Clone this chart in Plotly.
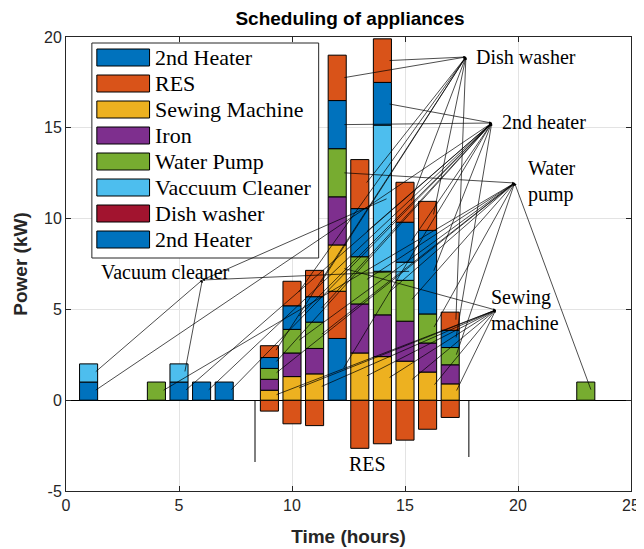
import plotly.graph_objects as go

# ---------------- data ----------------
hours = [1, 4, 5, 6, 7, 9, 10, 11, 12, 13, 14, 15, 16, 17, 23]
heater1 = [1, 0, 1, 1, 1, 0, 0, 0, 3.4, 0, 0, 0, 0, 0, 0]
res = [0, 0, 0, 0, 0, -0.6, -1.3, -1.4, 2.6, -2.65, -2.4, -2.2, -1.6, -0.95, 0]
sewing = [0, 0, 0, 0, 0, 0.55, 1.3, 1.45, 2.55, 2.6, 2.4, 2.15, 1.55, 0.9, 0]
iron = [0, 0, 0, 0, 0, 0.6, 1.3, 1.4, 2.65, 2.7, 2.3, 2.2, 1.6, 1.05, 0]
pump = [0, 1, 0, 0, 0, 0.6, 1.3, 1.45, 2.65, 2.6, 2.4, 2.25, 1.6, 0.95, 1]
vacuum = [1, 0, 1, 0, 0, 0, 0, 0, 0, 0, 8.05, 1.0, 0, 0, 0]
dish = [0] * 15
heater2 = [0, 0, 0, 0, 0, 0.6, 1.3, 1.4, 2.65, 2.65, 2.35, 2.2, 4.6, 0.95, 0]
extra = [0, 0, 0, 0, 0, 0.65, 1.35, 1.45, 2.5, 2.7, 2.4, 2.2, 1.6, 1.0, 0]

series = [heater1, res, sewing, iron, pump, vacuum, dish, heater2, extra]
legend_names = ["2nd Heater", "RES", "Sewing Machine", "Iron", "Water Pump",
                "Vaccuum Cleaner", "Dish washer", "2nd Heater"]
colors = ["#0072BD", "#D95319", "#EDB120", "#7E2F8E", "#77AC30",
          "#4DBEEE", "#A2142F", "#0072BD", "#D95319"]

x_ticks = [0, 5, 10, 15, 20, 25]
x_ticklabels = ["0", "5", "10", "15", "20", "25"]
y_ticks = [-5, 0, 5, 10, 15, 20]
y_ticklabels = ["-5", "0", "5", "10", "15", "20"]

# ---------------- layout geometry (page pixels) ----------------
W, H = 644, 549
OFF = 8  # default body margin of the html page
PL, PR, PT, PB = 66, 634, 37, 491  # plot area in page pixels
XR = (0, 25)
YR = (-5, 20)
ML, MT = PL - OFF, PT - OFF
MR = W - (PR - OFF)
MB = H - (PB - OFF)


def px2x(px):
    return XR[0] + (px - PL) / (PR - PL) * (XR[1] - XR[0])


def px2y(py):
    return YR[1] - (py - PT) / (PB - PT) * (YR[1] - YR[0])


fig = go.Figure()
for i, s in enumerate(series):
    fig.add_trace(go.Bar(
        x=hours, y=[v if v != 0 else None for v in s],
        width=0.8, marker=dict(color=colors[i], line=dict(color="black", width=1)),
        showlegend=False, hoverinfo="skip"))

# segment centers for annotation targets
pos_base = [0.0] * len(hours)
neg_base = [0.0] * len(hours)
centers = []
for s in series:
    c = []
    for j, v in enumerate(s):
        if v >= 0:
            c.append(pos_base[j] + v / 2)
            pos_base[j] += v
        else:
            c.append(neg_base[j] + v / 2)
            neg_base[j] += v
    centers.append(c)

serif = "Liberation Serif, Times New Roman, serif"
sans = "Liberation Sans, Arial, sans-serif"
annotations = []


def arrows(anchor, targets):
    for (h, si) in targets:
        j = hours.index(h)
        annotations.append(dict(
            x=anchor[0], y=anchor[1], ax=h + 0.25, ay=centers[si][j],
            xref="x", yref="y", axref="x", ayref="y", text="",
            showarrow=True, arrowhead=2, arrowsize=0.7, arrowwidth=0.7,
            arrowcolor="black", standoff=0, startstandoff=0))


mid = [9, 10, 11, 12, 13, 14, 15, 16, 17]
arrows((px2x(468), px2y(57)), [(h, 8) for h in mid])
arrows((px2x(494), px2y(123)), [(h, 7) for h in mid] + [(h, 0) for h in [1, 5, 6, 7, 12]])
arrows((px2x(517), px2y(183)), [(h, 4) for h in [4] + mid + [23]])
arrows((px2x(498), px2y(310)), [(h, 2) for h in mid])
arrows((px2x(203), px2y(280)), [(h, 5) for h in [1, 5, 14, 15]])

labels = [
    ("Dish washer", 476, 57, "left"),
    ("2nd heater", 502, 122, "left"),
    ("Water<br>pump", 528, 181, "left"),
    ("Sewing<br>machine", 491, 310, "left"),
    ("Vacuum cleaner", 233, 272, "right"),
    ("RES", 369, 464, "center"),
]
for t, px, py, anc in labels:
    annotations.append(dict(
        x=px2x(px), y=px2y(py), xref="x", yref="y", text=t, showarrow=False,
        xanchor=anc, yanchor="middle", align="left",
        font=dict(family=serif, size=20, color="black")))

shapes = []
# RES pointer lines
for px, py_end in [(256, 462), (471, 457)]:
    shapes.append(dict(type="line", xref="x", yref="y",
                       x0=px2x(px), x1=px2x(px), y0=0, y1=px2y(py_end),
                       line=dict(color="black", width=1)))

# custom legend
shapes.append(dict(type="rect", xref="x", yref="y",
                   x0=px2x(92), x1=px2x(320), y0=px2y(43), y1=px2y(258),
                   fillcolor="white", line=dict(color="#262626", width=1), layer="above"))
for k, name in enumerate(legend_names):
    cy = 57.5 + 26 * k
    shapes.append(dict(type="rect", xref="x", yref="y",
                       x0=px2x(97), x1=px2x(150), y0=px2y(cy - 8.5), y1=px2y(cy + 8.5),
                       fillcolor=colors[k], line=dict(color="black", width=1), layer="above"))
    annotations.append(dict(
        x=px2x(153), y=px2y(cy), xref="x", yref="y", text=name, showarrow=False,
        xanchor="left", yanchor="middle",
        font=dict(family=serif, size=22, color="black")))

axis_common = dict(
    showline=True, linecolor="#262626", linewidth=1, mirror="ticks",
    ticks="inside", ticklen=5, tickcolor="#262626",
    showgrid=True, gridcolor="#e3e3e3", gridwidth=1,
    tickfont=dict(family=sans, size=16, color="#262626"),
)

fig.update_layout(
    width=W, height=H,
    margin=dict(l=ML, r=MR, t=MT, b=MB),
    barmode="relative",
    paper_bgcolor="white", plot_bgcolor="white",
    title=dict(text="<b>Scheduling of appliances</b>",
               x=((PL + PR) / 2 - OFF) / W, xanchor="center",
               y=1 - (18 - OFF) / H, yanchor="middle",
               font=dict(family=sans, size=19, color="black")),
    xaxis=dict(range=list(XR), tickvals=x_ticks, ticktext=x_ticklabels, zeroline=False,
               title=dict(text="<b>Time (hours)</b>", standoff=16,
                          font=dict(family=sans, size=19, color="#262626")),
               **axis_common),
    yaxis=dict(range=list(YR), tickvals=y_ticks, ticktext=y_ticklabels, zeroline=True,
               zerolinecolor="black", zerolinewidth=1,
               title=dict(text="<b>Power (kW)</b>", standoff=11,
                          font=dict(family=sans, size=19, color="#262626")),
               **axis_common),
    annotations=annotations,
    shapes=shapes,
    showlegend=False,
)

fig.write_html("out.html")
